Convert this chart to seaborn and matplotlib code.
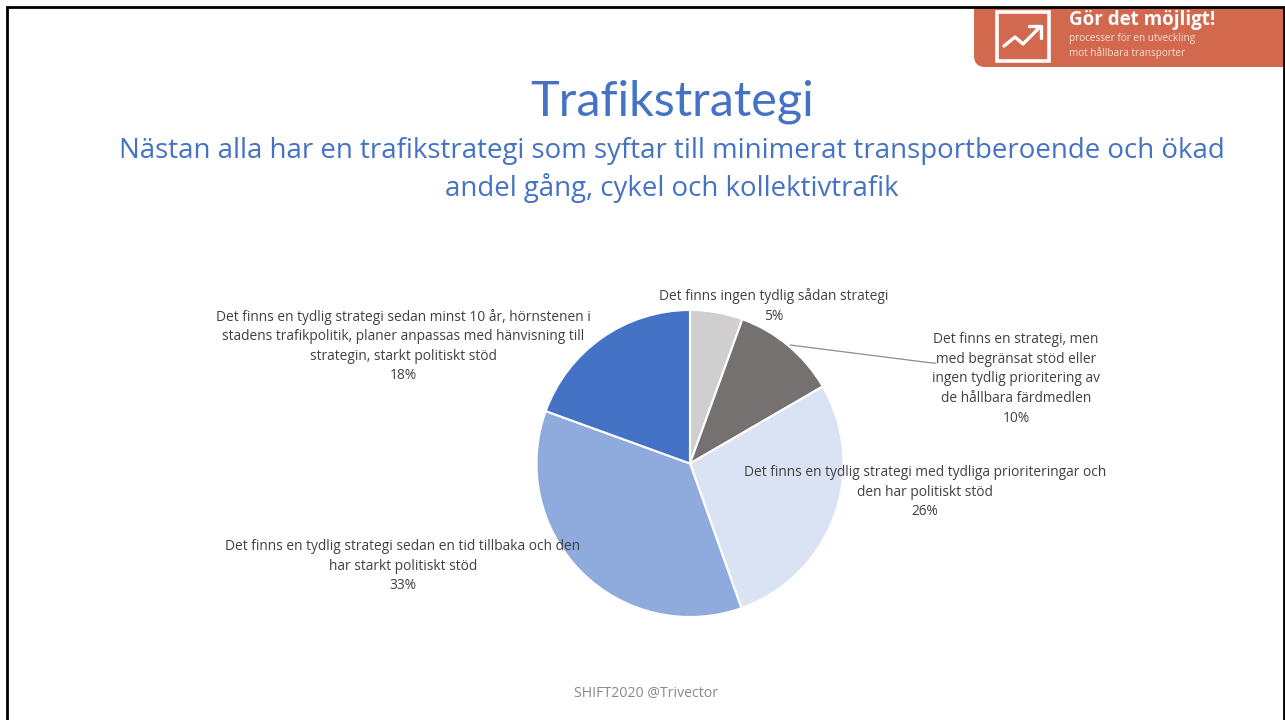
import matplotlib
matplotlib.use('Agg')
import matplotlib.pyplot as plt
from matplotlib.patches import FancyBboxPatch, Rectangle
import seaborn as sns

# Chart data
categories = [
    'Det finns ingen tydlig sådan strategi',
    'Det finns en strategi, men\nmed begränsat stöd eller\ningen tydlig prioritering av\nde hållbara färdmedlen',
    'Det finns en tydlig strategi med tydliga prioriteringar och\nden har politiskt stöd',
    'Det finns en tydlig strategi sedan en tid tillbaka och den\nhar starkt politiskt stöd',
    'Det finns en tydlig strategi sedan minst 10 år, hörnstenen i\nstadens trafikpolitik, planer anpassas med hänvisning till\nstrategin, starkt politiskt stöd',
]
# the labels show them rounded
values = [5.1, 10.2, 25.7, 33.1, 17.9]
colors = ['#D0CECE', '#767171', '#DAE3F3', '#8FAADC', '#4472C4']

title = 'Trafikstrategi'
subtitle = 'Nästan alla har en trafikstrategi som syftar till minimerat transportberoende och ökad\nandel gång, cykel och kollektivtrafik'
footer = 'SHIFT2020 @Trivector'
banner_title = 'Gör det möjligt!'
banner_text = ['processer för en utveckling', 'mot hållbara transporter']

# Where each data label sits on the slide (pixels)
label_pos = [(774, 306), (1016, 379), (925, 492), (403, 566), (403, 346)]

sns.set_theme(style='white')
plt.rcParams['font.family'] = ['Open Sans', 'DejaVu Sans']

W, H = 1285, 720
fig = plt.figure(figsize=(W / 100, H / 100), dpi=100, facecolor='white')

# Pie
cx, cy, r = 690, 463.5, 153.5
ax = fig.add_axes([(cx - r) / W, 1 - (cy + r) / H, 2 * r / W, 2 * r / H])
ax.pie(values, colors=sns.color_palette(colors), startangle=90, counterclock=False,
       wedgeprops={'edgecolor': 'white', 'linewidth': 1.5})
ax.set_xlim(-1, 1)
ax.set_ylim(-1, 1)

# Everything else goes on an overlay in pixel coordinates
over = fig.add_axes([0, 0, 1, 1], zorder=5)
over.set_xlim(0, W)
over.set_ylim(H, 0)
over.axis('off')
over.patch.set_alpha(0)

# Banner, cut off at the top by the slide border
over.add_patch(FancyBboxPatch((974, -30), 340, 97, boxstyle='round,pad=0,rounding_size=11',
                              lw=0, facecolor='#D2694E'))
over.add_patch(Rectangle((0, 0), W, 7, facecolor='white', lw=0))
over.add_patch(Rectangle((996.5, 11.5), 52, 49, fill=False, edgecolor='white', lw=2.6))
over.plot([1004, 1015, 1023, 1040], [46, 37, 44, 27], color='white', lw=2.4)
over.plot([1029, 1041, 1041], [26, 26, 38], color='white', lw=2.4)
over.text(1069, 19.5, banner_title, color='white', fontsize=13.5, fontweight='bold', ha='left', va='center')
over.text(1069, 38, banner_text[0], color='#F6DDD5', fontsize=7.2, ha='left', va='center')
over.text(1069, 53, banner_text[1], color='#F6DDD5', fontsize=7.2, ha='left', va='center')

# Slide border
over.plot([7, 7, W - 1, W - 1], [H, 7, 7, H], color='black', lw=2, solid_joinstyle='miter')

# Headings
over.text(672, 115, title, color='#4472C4', fontsize=35, ha='center', va='baseline', family='Lato')
over.text(672, 170, subtitle, color='#4472C4', fontsize=19.9, ha='center', va='center', linespacing=1.355)
over.text(646, 694, footer, color='#898989', fontsize=10.2, ha='center', va='center')

# Leader line for the 10% label
over.plot([790, 932, 936], [345, 363, 363], color='#8C8C8C', lw=0.9)

# Data labels
total_labels = [f'{c}\n{v:.0f}%' for c, v in zip(categories, values)]
for (x, y), txt in zip(label_pos, total_labels):
    over.text(x, y, txt, color='#404040', fontsize=9.9, ha='center', va='center',
              linespacing=1.41, multialignment='center')

fig.savefig('out.png', dpi=100)
